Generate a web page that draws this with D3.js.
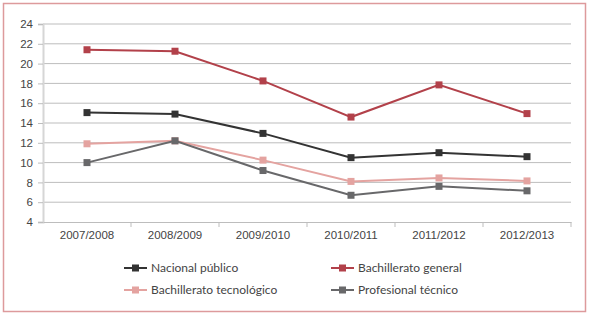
<!DOCTYPE html>
<html><head><meta charset="utf-8">
<script src="https://cdn.jsdelivr.net/npm/d3@7"></script>
<style>body{margin:0;background:#fff;}svg{display:block;font-family:Lato,"Open Sans",sans-serif;}</style>
</head><body><svg id="c" width="589" height="315"></svg>
<script>
const categories = ["2007/2008","2008/2009","2009/2010","2010/2011","2011/2012","2012/2013"];
const nacionalPublico = [15.05, 14.9, 12.95, 10.5, 11.0, 10.6];
const bachilleratoGeneral = [21.4, 21.25, 18.25, 14.6, 17.85, 14.95];
const bachilleratoTecnologico = [11.9, 12.2, 10.25, 8.1, 8.45, 8.15];
const profesionalTecnico = [10.0, 12.2, 9.2, 6.7, 7.6, 7.15];
const yTicks = [4,6,8,10,12,14,16,18,20,22,24];
const seriesNames = ["Nacional público","Bachillerato general","Bachillerato tecnológico","Profesional técnico"];
const seriesColors = ["#333333","#b2414a","#e4a3a0","#68686a"];
const seriesData = [nacionalPublico, bachilleratoGeneral, bachilleratoTecnologico, profesionalTecnico];

const svg = d3.select("#c");
svg.append("rect").attr("x",3.5).attr("y",3.5).attr("width",582).attr("height",308)
  .attr("fill","#fff").attr("stroke","#dd9a9c").attr("stroke-width",1.5);

const x = d3.scaleBand().domain(categories).range([43,571]);
const y = d3.scaleLinear().domain([4,24]).range([222,24]);

svg.append("g").selectAll("line").data(yTicks.filter(d=>d>4)).join("line")
  .attr("x1",43).attr("x2",571).attr("y1",d=>y(d)).attr("y2",d=>y(d))
  .attr("stroke","#bdbdbd").attr("stroke-width",1);

const ya = svg.append("g").attr("transform","translate(43,0)").call(d3.axisLeft(y).tickValues(yTicks).tickSize(5).tickPadding(5).tickFormat(d3.format("d")));
ya.select(".domain").attr("stroke","#d6d6d6").attr("stroke-width",2);
ya.selectAll(".tick line").attr("stroke","#bdbdbd");
ya.selectAll("text").attr("fill","#444").attr("font-size","11.5px");

const xa = svg.append("g").attr("transform","translate(0,222)").call(d3.axisBottom(x).tickSize(0).tickPadding(9));
xa.select(".domain").attr("stroke","#bdbdbd");
xa.selectAll("text").attr("fill","#444").attr("font-size","11.5px");
svg.append("g").selectAll("line").data(categories).join("line")
  .attr("x1",d=>x(d)+x.bandwidth()).attr("x2",d=>x(d)+x.bandwidth())
  .attr("y1",222).attr("y2",227).attr("stroke","#bdbdbd");

const line = d3.line().x((d,i)=>x(categories[i])+x.bandwidth()/2).y(d=>y(d));
seriesData.forEach((s,k)=>{
  const g = svg.append("g");
  g.append("path").datum(s).attr("d",line).attr("fill","none").attr("stroke",seriesColors[k]).attr("stroke-width",2);
  g.selectAll("rect").data(s).join("rect")
    .attr("x",(d,i)=>x(categories[i])+x.bandwidth()/2-3.5).attr("y",d=>y(d)-3.5)
    .attr("width",7).attr("height",7).attr("fill",seriesColors[k]);
});

const legPos = [[124,268],[331,268],[124,290],[331,290]];
seriesNames.forEach((n,k)=>{
  const [lx,ly] = legPos[k];
  const g = svg.append("g");
  g.append("line").attr("x1",lx).attr("x2",lx+23).attr("y1",ly).attr("y2",ly).attr("stroke",seriesColors[k]).attr("stroke-width",2);
  g.append("rect").attr("x",lx+8).attr("y",ly-3.5).attr("width",7).attr("height",7).attr("fill",seriesColors[k]);
  g.append("text").attr("x",lx+27).attr("y",ly).attr("dy","0.35em").attr("fill","#444").attr("font-size","12px").text(n);
});
</script></body></html>
